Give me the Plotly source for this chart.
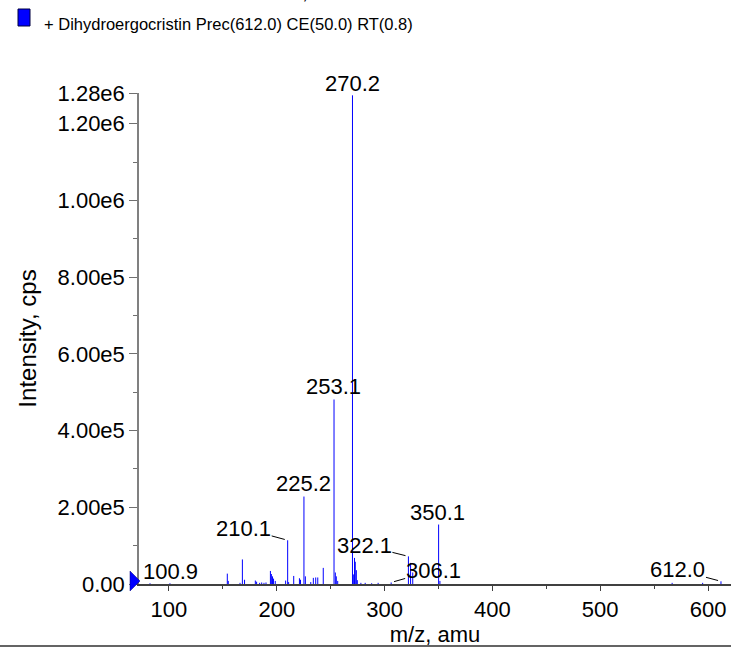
import plotly.graph_objects as go

# ---- data ----
mz = [82.4, 100.9, 154.1, 155.0, 165.9, 168.1, 170.1, 180.1, 181.3, 184.1, 186.0,
      188.1, 190.0, 194.1, 195.0, 196.0, 197.0, 198.6, 208.2, 210.1, 211.0, 215.7,
      221.0, 222.0, 225.2, 226.5, 231.5, 233.9, 236.1, 238.0, 243.1, 253.1, 254.3,
      255.2, 256.5, 270.2, 271.0, 272.1, 272.8, 273.8, 274.7, 278.0, 282.0, 288.0,
      294.0, 306.1, 322.1, 324.1, 326.1, 350.1, 351.3, 566.7, 595.0, 612.0]
intensity = [2e3, 2e3, 27e3, 8e3, 3e3, 64e3, 11e3, 9e3, 6e3, 3e3, 4e3,
             3e3, 4e3, 34e3, 26e3, 20e3, 14e3, 8e3, 9e3, 114e3, 5e3, 21e3,
             15e3, 11e3, 228e3, 20e3, 5e3, 16e3, 17e3, 17e3, 42e3, 481e3, 30e3,
             20e3, 8e3, 1274e3, 25e3, 68e3, 58e3, 36e3, 10e3, 3e3, 3e3, 2e3,
             3e3, 4e3, 72e3, 55e3, 30e3, 155e3, 8e3, 3e3, 3e3, 7e3]

label_mz = [270.2, 253.1, 225.2, 350.1, 210.1, 322.1, 306.1, 612.0, 100.9]
label_text = ["270.2", "253.1", "225.2", "350.1", "210.1", "322.1", "306.1", "612.0", "100.9"]

y_tickvals = [0, 2e5, 4e5, 6e5, 8e5, 1.0e6, 1.2e6, 1.28e6]
y_ticktext = ["0.00", "2.00e5", "4.00e5", "6.00e5", "8.00e5", "1.00e6", "1.20e6", "1.28e6"]
x_tickvals = [100, 200, 300, 400, 500, 600]

legend_text = "+ Dihydroergocristin Prec(612.0) CE(50.0) RT(0.8)"

# ---- styling ----
FONT = "Liberation Sans, Arial, Helvetica, sans-serif"
BLUE = "#0000ff"
L, T, W, H = 139, 93, 592, 491   # plot area in pixels


def px(x):
    return (x - L) / W


def py(y):
    return (T + H - y) / H


# (ax, ay, leader) offsets for each label, in pixels
label_offsets = {
    "270.2": (0, -12, False), "253.1": (-1, -13, False), "225.2": (0, -13, False),
    "350.1": (-1.5, -12.5, False), "210.1": (-44, -12, True), "322.1": (-44, -11, True),
    "306.1": (42, -12, True), "612.0": (-43, -11.5, True), "100.9": (0.5, -11.5, False),
}

xs, ys = [], []
for m, v in zip(mz, intensity):
    xs += [m, m, None]
    ys += [0, v, None]

fig = go.Figure()
fig.add_trace(go.Scatter(x=xs, y=ys, mode="lines",
                         line=dict(color=BLUE, width=1), hoverinfo="skip",
                         showlegend=False))

annotations = []
lookup = dict(zip(mz, intensity))
for m, t in zip(label_mz, label_text):
    ax, ay, leader = label_offsets[t]
    annotations.append(dict(
        x=m, y=lookup[m], xref="x", yref="y", text=t,
        showarrow=True, ax=ax, ay=ay, axref="pixel", ayref="pixel",
        arrowhead=0, arrowwidth=1, standoff=3,
        arrowcolor="#000000" if leader else "rgba(0,0,0,0)",
        font=dict(family=FONT, size=22, color="#000000"),
        xanchor="center", yanchor="middle", borderpad=0))

# legend entry text
annotations.append(dict(x=px(42), y=py(24), xref="paper", yref="paper",
                        text=legend_text, showarrow=False, xanchor="left",
                        yanchor="middle",
                        font=dict(family=FONT, size=16.5, color="#000000")))
# clipped title of the panel above
annotations.append(dict(x=px(311), y=py(-8.5), xref="paper", yref="paper",
                        text="m/z, amu", showarrow=False, xanchor="center",
                        yanchor="middle",
                        font=dict(family=FONT, size=20, color="#000000")))

tri = "M {x0},{y0} L {x1},{y1} L {x0},{y2} Z".format(
    x0=px(130), y0=py(571), x1=px(140), y1=py(581), y2=py(591))

shapes = [
    dict(type="rect", xref="paper", yref="paper",
         x0=px(18), x1=px(30), y0=py(26), y1=py(9),
         fillcolor=BLUE, line=dict(color="#000040", width=1)),
    dict(type="path", xref="paper", yref="paper", path=tri,
         fillcolor=BLUE, line=dict(color="#000080", width=0.5)),
    dict(type="line", xref="paper", yref="paper",
         x0=px(0), x1=1, y0=py(646), y1=py(646),
         line=dict(color="#303030", width=1.5)),
]

fig.update_layout(
    width=731, height=651,
    margin=dict(l=L, r=0, t=T, b=651 - T - H),
    paper_bgcolor="white", plot_bgcolor="white",
    font=dict(family=FONT, size=22, color="#000000"),
    annotations=annotations, shapes=shapes,
    showlegend=False,
)
fig.update_xaxes(
    range=[72.2, 621.3], tickvals=x_tickvals, ticks="outside", ticklen=5,
    tickcolor="#404040", showline=True, linecolor="#404040", linewidth=1.5,
    showgrid=False, zeroline=False,
    minor=dict(dtick=50, tick0=0, ticks="outside", ticklen=3, tickcolor="#404040"),
    title=dict(text="m/z, amu", font=dict(family=FONT, size=22), standoff=1),
    tickfont=dict(family=FONT, size=22),
)
fig.update_yaxes(
    range=[0, 1.28e6], tickvals=y_tickvals, ticktext=y_ticktext,
    ticks="outside", ticklen=8, tickcolor="#707070",
    showline=True, linecolor="#808080", linewidth=1.5,
    showgrid=False, zeroline=False,
    minor=dict(dtick=1e5, tick0=0, ticks="outside", ticklen=4, tickcolor="#707070"),
    title=dict(text="Intensity, cps", font=dict(family=FONT, size=24), standoff=14),
    tickfont=dict(family=FONT, size=22),
)

fig.write_html("out.html", config={"displayModeBar": False},
               post_script="document.body.style.margin='0px';")
